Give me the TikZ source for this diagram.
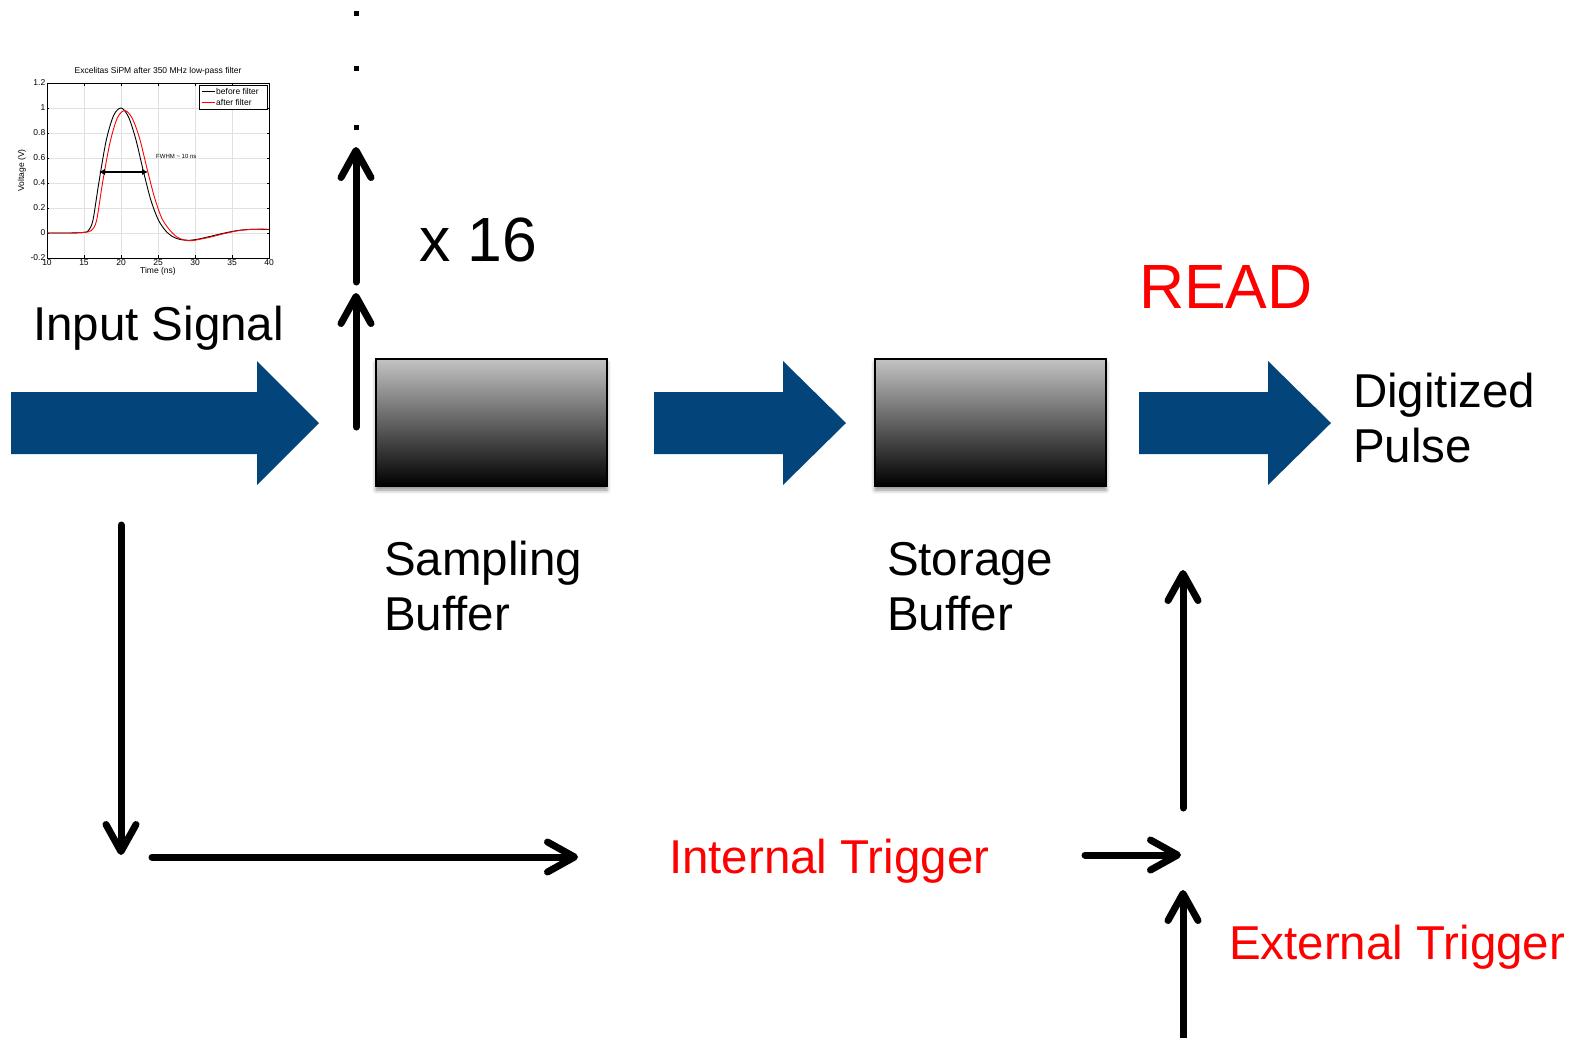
\documentclass[tikz,border=0pt]{standalone}
\usepackage{fontspec}
\setmainfont{Liberation Sans}
\usetikzlibrary{arrows.meta,shadows.blur}

\definecolor{flowblue}{RGB}{3,68,122}
\definecolor{sigred}{RGB}{255,0,0}
\definecolor{boxtop}{RGB}{195,195,195}
\definecolor{gridgray}{RGB}{225,225,225}

\tikzset{
  txt/.style={anchor=base west, inner sep=0pt, outer sep=0pt, align=left,
              font=\fontsize{47.5}{55}\selectfont},
  bigtxt/.style={anchor=base west, inner sep=0pt, outer sep=0pt,
              font=\fontsize{62.5}{70}\selectfont},
  link/.style={line width=7pt, line cap=round,
               -{Straight Barb[round,length=27pt,width=30pt]}},
  flow/.style={fill=flowblue},
  buffer/.style={draw=black, line width=2pt, top color=boxtop, bottom color=black,
                 minimum width=231pt, minimum height=127pt, inner sep=0pt,
                 blur shadow={shadow xshift=0pt, shadow yshift=-4pt,
                              shadow blur radius=4pt, shadow opacity=45}},
  tick/.style={font=\fontsize{8.5}{9}\selectfont, inner sep=1.5pt},
  dotmark/.style={fill=black},
}

\begin{document}
\begin{tikzpicture}[x=1pt, y=-1pt]
\useasboundingbox (0,0) rectangle (1581,1037);

% ---------- pulse plot ----------
\begin{scope}[shift={(-27,233)}, x=7.4pt, y=125pt]
  \foreach \t in {15,20,...,35}
    \draw[gridgray, line width=0.4pt] (\t,-0.2) -- (\t,1.2);
  \foreach \v in {0,0.2,0.4,0.6,0.8,1.0}
    \draw[gridgray, line width=0.4pt] (10,\v) -- (40,\v);
  \draw[black, line width=0.6pt] (10,-0.2) rectangle (40,1.2);
  \foreach \t in {10,15,...,40} {
    \draw[line width=0.5pt] (\t,-0.2) -- ++(0,0.025);
    \draw[line width=0.5pt] (\t,1.2) -- ++(0,-0.025);
    \node[tick, anchor=north] at (\t,-0.2) {\t};
  }
  \foreach \v/\l in {-0.2/-0.2, 0/0, 0.2/0.2, 0.4/0.4, 0.6/0.6, 0.8/0.8, 1/1, 1.2/1.2} {
    \draw[line width=0.5pt] (10,\v) -- ++(0.3,0);
    \draw[line width=0.5pt] (40,\v) -- ++(-0.3,0);
    \node[tick, anchor=east] at (10,\v) {\l};
  }
  \node[font=\fontsize{8.5}{9}\selectfont] at (25,1.29) {Excelitas SiPM after 350 MHz low-pass filter};
  \node[tick, anchor=north] at (25,-0.26) {Time (ns)};
  \node[tick, rotate=90] at (6.6,0.5) {Voltage (V)};
  % raw pulse
  \draw[black, line width=0.9pt] plot[smooth, tension=0.5] coordinates {
    (10,0) (13,0) (15,0.005) (15.6,0.02) (16.2,0.1) (17,0.4) (18,0.74)
    (19,0.94) (20,1.0) (21,0.93) (22,0.75) (23,0.5) (24,0.27) (25,0.11)
    (26,0.02) (27,-0.03) (28,-0.052) (29.3,-0.058) (30.5,-0.048) (32,-0.028)
    (34,0.0) (36,0.022) (38,0.03) (40,0.028)};
  % filtered pulse
  \draw[sigred, line width=0.9pt] plot[smooth, tension=0.5] coordinates {
    (10,0) (13,0) (15,0.005) (16,0.02) (16.7,0.1) (17.5,0.4) (18.5,0.72)
    (19.5,0.92) (20.5,0.98) (21.5,0.92) (22.5,0.76) (23.5,0.52) (24.5,0.29)
    (25.5,0.12) (26.5,0.03) (27.5,-0.03) (28.5,-0.055) (29.5,-0.062)
    (30.5,-0.052) (32,-0.034) (34,-0.004) (36,0.02) (38,0.03) (40,0.03)};
\end{scope}
% legend
\draw[fill=white, line width=0.4pt] (199,85) rectangle (267,109);
\draw[black, line width=0.8pt] (202,91) -- (215,91);
\node[tick, anchor=west, inner sep=0pt] at (216,91) {before filter};
\draw[sigred, line width=0.8pt] (202,102) -- (215,102);
\node[tick, anchor=west, inner sep=0pt] at (216,102) {after filter};
% FWHM marker
\coordinate (fwL) at (99,172);
\coordinate (fwR) at (148,172);
\draw[line width=1.8pt, {Latex[length=6pt,width=6.5pt]}-{Latex[length=6pt,width=6.5pt]}] (fwL) -- (fwR);
\node[anchor=west, inner sep=0pt, font=\fontsize{6}{7}\selectfont] at (156,156) {FWHM \textasciitilde{} 10 ns};

% ---------- labels ----------
\node[txt] (input) at (33,340) {Input Signal};
\node[bigtxt] (mult) at (419,261) {x 16};
\node[bigtxt, text=sigred] (read) at (1139,308) {READ};
% multi-line labels are anchored on the baseline of their last line
\node[txt] (digi) at (1353,462) {Digitized\\Pulse};
\node[txt] (sblab) at (384,630) {Sampling\\Buffer};
\node[txt] (stlab) at (887,630) {Storage\\Buffer};
\node[txt, text=sigred] (intr) at (669,873) {Internal Trigger};
\node[txt, text=sigred] (extr) at (1229,959) {External Trigger};

% ---------- buffers ----------
\node[buffer] (sampling) at (491.5,422.5) {};
\node[buffer] (storage) at (990.5,422.5) {};

% ---------- block arrows ----------
\fill[flow] (11,392) -- (257,392) -- (257,361) -- (319,423) -- (257,485) -- (257,454) -- (11,454) -- cycle;
\fill[flow] (654,392) -- (783,392) -- (783,361) -- (846,423) -- (783,485) -- (783,454) -- (654,454) -- cycle;
\fill[flow] (1139,392) -- (1268,392) -- (1268,361) -- (1331,423) -- (1268,485) -- (1268,454) -- (1139,454) -- cycle;

% ---------- channel replication ----------
\coordinate (tap0) at (356,427);
\coordinate (tap1) at (356,293);
\coordinate (tap2) at (356,282);
\coordinate (tap3) at (356,147);
\draw[link] (tap0) -- (tap1);
\draw[link] (tap2) -- (tap3);
\foreach \y in {13,68,127}
  \fill[dotmark] (353.5,\y-2.5) rectangle ++(5,5);

% ---------- trigger paths ----------
\coordinate (split) at (121,525);
\coordinate (splitend) at (121,855);
\coordinate (trgA) at (152,857);
\coordinate (trgB) at (578,857);
\coordinate (merge) at (1181,855);
\coordinate (mergeIn) at (1085,855);
\coordinate (readLo) at (1183,808);
\coordinate (readHi) at (1183,570);
\coordinate (extLo) at (1183,1045);
\coordinate (extHi) at (1183,890);
\draw[link] (split) -- (splitend);
\draw[link] (trgA) -- (trgB);
\draw[link] (mergeIn) -- (merge);
\draw[link] (readLo) -- (readHi);
\draw[link] (extLo) -- (extHi);
\end{tikzpicture}
\end{document}
